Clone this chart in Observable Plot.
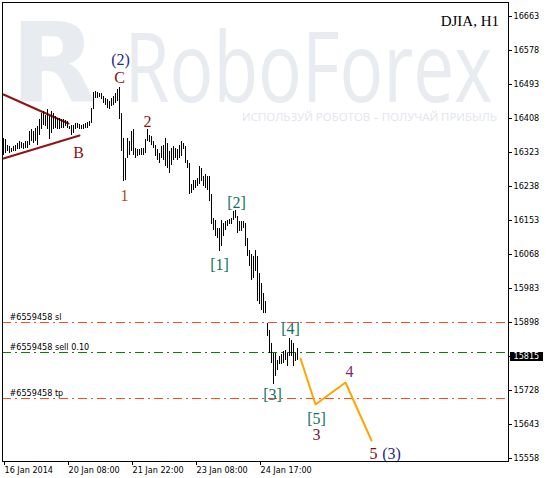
<!DOCTYPE html>
<html>
<head>
<meta charset="utf-8">
<script src="https://cdn.jsdelivr.net/npm/d3@7"></script>
<script src="https://cdn.jsdelivr.net/npm/@observablehq/plot@0.6"></script>
<style>
  html, body { margin: 0; padding: 0; background: #fff; }
  svg { display: block; }
</style>
</head>
<body>
<script>
// DJIA hourly bars (one value per bar, oldest first)
const highs = [
  16359,16357,16342,16338,16334,16338,16342,16347,16351,16348,16347,16351,16351,16376,16380,16376,16384,16388,16405,16421,
  16426,16417,16432,16413,16426,16421,16413,16409,16409,16405,16405,16403,16401,16388,16392,16392,16397,16397,16394,16392,
  16394,16397,16398,16401,16434,16473,16476,16473,16472,16470,16463,16459,16455,16451,16459,16463,16472,16480,16487,16422,
  16359,16310,16359,16351,16376,16380,16334,16330,16330,16334,16334,16355,16380,16365,16363,16351,16342,16330,16322,16338,
  16342,16359,16347,16326,16334,16338,16334,16330,16342,16351,16347,16338,16305,16297,16243,16255,16255,16259,16288,16284,
  16263,16268,16263,16263,16218,16159,16155,16134,16134,16155,16147,16151,16155,16157,16159,16176,16178,16163,16151,16151,
  16151,16147,16109,16080,16068,16063,16080,16063,16022,15997,15972,15951,15897,15880,15847,15822,15822,15805,15814,15818,
  15826,15830,15822,15860,15855,15847,15822,15834
];
const lows = [
  16317,16322,16326,16322,16323,16326,16326,16330,16332,16334,16330,16334,16334,16342,16351,16347,16351,16342,16367,16380,
  16392,16388,16380,16355,16372,16380,16384,16380,16380,16384,16384,16388,16384,16380,16367,16372,16382,16384,16380,16380,
  16382,16384,16384,16388,16397,16430,16459,16459,16462,16457,16447,16440,16434,16432,16438,16442,16447,16451,16405,16326,
  16251,16253,16309,16317,16326,16317,16309,16313,16317,16317,16317,16322,16351,16348,16342,16334,16313,16305,16297,16309,
  16305,16288,16284,16272,16292,16305,16309,16305,16309,16313,16330,16297,16284,16218,16222,16230,16234,16238,16243,16251,
  16238,16234,16230,16201,16143,16130,16113,16109,16076,16088,16113,16130,16138,16143,16143,16155,16159,16122,16126,16126,
  16134,16088,16063,16038,16005,16009,16026,15951,15943,15930,15922,15922,15864,15822,15797,15743,15764,15780,15793,15793,
  15797,15805,15789,15814,15814,15789,15801,15805
];
const lastClose = 15815;

// Time axis: bar index of each labelled tick and its text
const timeTickBars = [0, 32, 64, 96, 128];
const timeTickLabels = ["16 Jan 2014", "20 Jan 08:00", "21 Jan 22:00", "23 Jan 08:00", "24 Jan 17:00"];

// Price axis ticks
const priceTicks = [15558, 15643, 15728, 15813, 15898, 15983, 16068, 16153, 16238, 16323, 16408, 16493, 16578, 16663];

// Order levels
const orderNames = ["#6559458 sl", "#6559458 sell 0.10", "#6559458 tp"];
const orderPrices = [15898, 15823, 15708];

// Triangle boundaries (bar index, price)
const upperBars = [0, 32.5];
const upperPrices = [16468, 16396];
const lowerBars = [0, 38];
const lowerPrices = [16308, 16366];

// Projected wave path
const forecastBars = [148.6, 155.75, 171.1, 184.1];
const forecastPrices = [15810, 15693, 15749, 15604];

// Wave counts
const waveText  = ["(2)", "C", "2", "B", "1", "[1]", "[2]", "[3]", "[4]", "[5]", "3", "4", "5", "(3)"];
const waveBar   = [58.5, 58.25, 71.75, 37.5, 60.5, 108, 116.5, 134.6, 143.6, 156.6, 156.6, 172.75, 184.9, 193.75];
const wavePrice = [16555, 16512, 16400, 16324, 16216, 16043, 16199, 15720, 15883, 15660, 15620, 15776, 15571, 15571];

// ---- styles ----
const waveFill = ["#26268e", "#8b1212", "#8b1212", "#8b1212", "#a8520c", "#0e7262", "#0e7262", "#0e7262", "#0e7262", "#0e7262",
                  "#7a1038", "#7d2a6a", "#7a1010", "#26268e"];
const levelStroke = ["#ff4a1a", "#0a7d0a", "#ff4a1a"];
const serif = "'Liberation Serif', 'Times New Roman', serif";
const axisFont = "Tahoma, 'DejaVu Sans Condensed', 'Liberation Sans', sans-serif";
const washColor = "#e8ebf0";

const bars = highs.map((h, i) => ({i, high: h, low: lows[i]}));
const orders = orderNames.map((name, k) => ({name, price: orderPrices[k], k}));
const waves = waveText.map((t, k) => ({t, bar: waveBar[k], price: wavePrice[k], k}));
const upper = upperBars.map((b, k) => ({bar: b, price: upperPrices[k]}));
const lower = lowerBars.map((b, k) => ({bar: b, price: lowerPrices[k]}));
const forecast = forecastBars.map((b, k) => ({bar: b, price: forecastPrices[k]}));

const W = 548, H = 478, mRight = 40;

const chart = Plot.plot({
  width: W,
  height: H,
  marginLeft: 2,
  marginTop: 2,
  marginRight: mRight,
  marginBottom: 17,
  style: {fontFamily: axisFont, fontSize: "9px", background: "#fff", color: "#000", overflow: "visible"},
  x: {type: "linear", domain: [-0.5, 252.5], round: true, axis: null},
  y: {type: "linear", domain: [15551.75, 16698.5], round: true, axis: null},
  marks: [
    // background watermark
    Plot.text(["R"], {frameAnchor: "top-left", text: d => d, textAnchor: "start", lineAnchor: "top",
      dx: 8, dy: 21, fontSize: 110, fontWeight: "bold", fontFamily: "'DejaVu Sans', sans-serif", fill: washColor}),
    Plot.text(["RoboForex"], {frameAnchor: "top-left", text: d => d, textAnchor: "start", lineAnchor: "top",
      dx: 122, dy: 31, fontSize: 97, fontFamily: "'Open Sans', sans-serif", fill: washColor}),
    Plot.text(["ИСПОЛЬЗУЙ РОБОТОВ – ПОЛУЧАЙ ПРИБЫЛЬ"], {frameAnchor: "top-left", text: d => d, textAnchor: "start", lineAnchor: "middle",
      dx: 239.5, dy: 114.5, fontSize: 11, fontFamily: "'Open Sans', sans-serif", fill: "#e2e5eb"}),

    // order levels
    Plot.ruleY(orders, {y: "price", stroke: d => levelStroke[d.k], strokeWidth: 1, strokeDasharray: "9,4,2,4"}),
    Plot.text(orders, {y: "price", text: "name", frameAnchor: "left", textAnchor: "start", dx: 7, dy: -5.5,
      fill: "#000", fontSize: 9}),

    // triangle
    Plot.line(upper, {x: "bar", y: "price", stroke: "#8f1515", strokeWidth: 2}),
    Plot.line(lower, {x: "bar", y: "price", stroke: "#8f1515", strokeWidth: 2}),

    // price bars
    Plot.ruleX(bars, {x: "i", y1: "low", y2: "high", stroke: "#000", strokeWidth: 1}),

    // projected path
    Plot.line(forecast, {x: "bar", y: "price", stroke: "#ffa500", strokeWidth: 2}),

    // wave counts
    Plot.text(waves, {x: "bar", y: "price", text: "t", fill: d => waveFill[d.k], fontFamily: serif, fontSize: 16}),

    // symbol / timeframe
    Plot.text(["DJIA, H1"], {frameAnchor: "top-right", text: d => d, textAnchor: "end", lineAnchor: "top",
      dx: -9.5, dy: 12.5, fontFamily: serif, fontSize: 15, fill: "#000"}),

    Plot.frame({stroke: "#000"}),

    // axes
    Plot.axisY(priceTicks, {anchor: "right", tickSize: 3, tickPadding: 2, fontSize: 9, label: null,
      tickFormat: d => (d === 15813 ? "" : String(d))}),
    Plot.axisX(timeTickBars, {anchor: "bottom", tickSize: 4, tickPadding: 1, fontSize: 9, label: null,
      textAnchor: "start", dx: 1, tickFormat: d => timeTickLabels[timeTickBars.indexOf(d)]}),

    // last price tag
    Plot.text([lastClose], {y: d => d, text: d => String(d), frameAnchor: "right", textAnchor: "start",
      dx: 5, fill: "#fff", fontSize: 9})
  ]
});

document.body.appendChild(chart);

const svg = d3.select(chart);
const textsWith = (s) => svg.selectAll("text").filter(function () { return this.textContent === s; });

// squeeze watermark lettering to its span
textsWith("RoboForex").attr("textLength", 368).attr("lengthAdjust", "spacingAndGlyphs");
textsWith("ИСПОЛЬЗУЙ РОБОТОВ – ПОЛУЧАЙ ПРИБЫЛЬ").attr("textLength", 255).attr("lengthAdjust", "spacingAndGlyphs");
textsWith("R").attr("textLength", 86).attr("lengthAdjust", "spacingAndGlyphs");

// black badge behind the last price, placed with the chart's own y scale
const yPix = chart.scale("y").apply(lastClose);
const tag = textsWith(String(lastClose)).node();
if (tag) {
  const group = tag.parentNode;
  group.parentNode.insertBefore(
    Object.assign(document.createElementNS("http://www.w3.org/2000/svg", "rect"), {}),
    group
  );
  d3.select(group.previousSibling)
    .attr("x", W - mRight + 2)
    .attr("y", Math.round(yPix) - 4)
    .attr("width", 33)
    .attr("height", 9)
    .attr("fill", "#000");
}
</script>
</body>
</html>
